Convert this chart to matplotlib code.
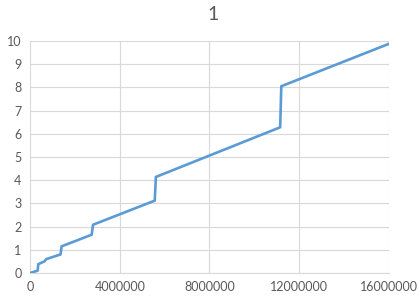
import matplotlib
matplotlib.use("Agg")
import matplotlib.pyplot as plt

# values
x_values = [0, 340000, 370000, 640000, 730000, 1360000, 1410000,
            2750000, 2810000, 5560000, 5610000, 11150000, 11200000, 16000000]
y_values = [0, 0.1, 0.38, 0.5, 0.6, 0.8, 1.15,
            1.65, 2.08, 3.12, 4.14, 6.28, 8.05, 9.88]
x_ticks = [0, 4000000, 8000000, 12000000, 16000000]
y_ticks = list(range(0, 11))

plt.rcParams['font.family'] = ['Lato', 'DejaVu Sans']

fig = plt.figure(figsize=(4.2, 2.99), dpi=100)
ax = fig.add_axes([30/420, 26/299, 359/420, 232/299])

ax.plot(x_values, y_values, color='#5b9bd5', linewidth=1.9, zorder=3)

ax.set_xlim(0, 16000000)
ax.set_ylim(0, 10)
ax.set_xticks(x_ticks)
ax.set_xticklabels([str(t) for t in x_ticks])
ax.set_yticks(y_ticks)
ax.grid(color='#d9d9d9', linewidth=0.8)
ax.set_axisbelow(True)
for s in ['top', 'right', 'left']:
    ax.spines[s].set_visible(False)
ax.spines['bottom'].set_color('#d9d9d9')
ax.tick_params(length=0, labelsize=9, colors='#595959', pad=6)

fig.text(213/420, 1 - 15/299, '1', ha='center', va='center', fontsize=14, color='#595959')

plt.savefig('out.png', dpi=100)
